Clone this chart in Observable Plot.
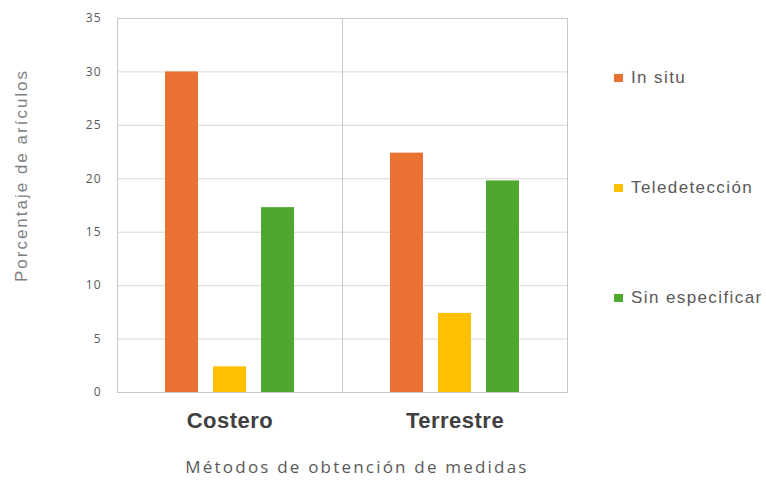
<!DOCTYPE html>
<html>
<head>
<meta charset="utf-8">
<script src="https://cdn.jsdelivr.net/npm/d3@7"></script>
<script src="https://cdn.jsdelivr.net/npm/@observablehq/plot@0.6"></script>
<style>
  html, body { margin: 0; padding: 0; background: #fff; }
  #chart { position: relative; width: 766px; height: 480px; overflow: hidden; }
  #chart svg { display: block; }
  .legend { position: absolute; left: 0; top: 0; }
  .legend .item {
    position: absolute; left: 614px; display: flex; align-items: center;
    font-family: "Liberation Sans", Arial, sans-serif; font-size: 17px;
    letter-spacing: 1.4px; color: #595959; white-space: nowrap; transform: translateY(-50%);
  }
  .legend .sw { width: 9px; height: 8px; margin-right: 8px; }
</style>
</head>
<body>
<div id="chart"></div>
<script>
// Groups (measurement setting) and series (measurement method)
const groups = ["Costero", "Terrestre"];
const methods = ["In situ", "Teledetección", "Sin especificar"];
const colors = ["#E97132", "#FFC000", "#4EA72E"];

// Percentage of articles per method, one array per group
const costero = [30, 2.4, 17.3];
const terrestre = [22.4, 7.4, 19.8];

const yTicks = [0, 5, 10, 15, 20, 25, 30, 35];
const yLabel = "Porcentaje de arículos";
const xLabel = "Métodos de obtención de medidas";

const rows = [
  ...methods.map((m, i) => ({group: groups[0], method: m, value: costero[i]})),
  ...methods.map((m, i) => ({group: groups[1], method: m, value: terrestre[i]}))
];

const plot = Plot.plot({
  width: 766,
  height: 480,
  marginLeft: 117,
  marginRight: 199,
  marginTop: 18,
  marginBottom: 88,
  fx: {domain: groups, padding: 0},
  x: {domain: methods, paddingInner: 0.306, paddingOuter: 0.95, axis: null},
  y: {domain: [0, 35], ticks: yTicks},
  color: {domain: methods, range: colors},
  marks: [
    Plot.gridY(yTicks, {stroke: "#d9d9d9", strokeOpacity: 1}),
    Plot.frame({stroke: "#c8c8c8"}),
    Plot.barY(rows, {fx: "group", x: "method", y: "value", fill: "method"}),
    Plot.axisY(yTicks, {
      tickSize: 0, tickPadding: 16, label: null,
      fontSize: 12, fill: "#595959",
      fontFamily: "Open Sans, sans-serif"
    }),
    Plot.axisFx({
      anchor: "bottom", tickSize: 0, tickPadding: 20, label: null,
      fontSize: 22, fontWeight: "bold", fill: "#404040",
      fontFamily: "Liberation Sans, Arial, sans-serif"
    }),
    // Axis titles, attached to the first facet
    Plot.text([groups[0]], {
      fx: d => d, text: () => yLabel, frameAnchor: "left",
      textAnchor: "middle", rotate: -90, dx: -96, dy: -30, lineAnchor: "middle",
      fontSize: 17, fill: "#7f7f7f",
      fontFamily: "Liberation Sans, Arial, sans-serif"
    }),
    Plot.text([groups[0]], {
      fx: d => d, text: () => xLabel, frameAnchor: "bottom",
      textAnchor: "middle", dx: 127, dy: 75, lineAnchor: "middle",
      fontSize: 17, fill: "#595959",
      fontFamily: "Open Sans, sans-serif"
    })
  ]
});

// Letter spacing for the wide-set labels
plot.querySelectorAll('g[aria-label="y-axis tick label"] text').forEach(t => t.setAttribute("letter-spacing", "1"));
plot.querySelectorAll('g[aria-label="fx-axis tick label"] text').forEach(t => t.setAttribute("letter-spacing", "0.5"));
plot.querySelectorAll('g[aria-label="text"] text').forEach(t => {
  t.setAttribute("letter-spacing", t.textContent === yLabel ? "2" : "2.2");
});

const root = document.getElementById("chart");
root.appendChild(plot);

// Legend at the right, one entry per series
const legend = document.createElement("div");
legend.className = "legend";
const legendY = [78, 188, 298];
methods.forEach((m, i) => {
  const item = document.createElement("div");
  item.className = "item";
  item.style.top = legendY[i] + "px";
  const sw = document.createElement("span");
  sw.className = "sw";
  sw.style.background = colors[i];
  const label = document.createElement("span");
  label.textContent = m;
  item.appendChild(sw);
  item.appendChild(label);
  legend.appendChild(item);
});
root.appendChild(legend);
</script>
</body>
</html>
